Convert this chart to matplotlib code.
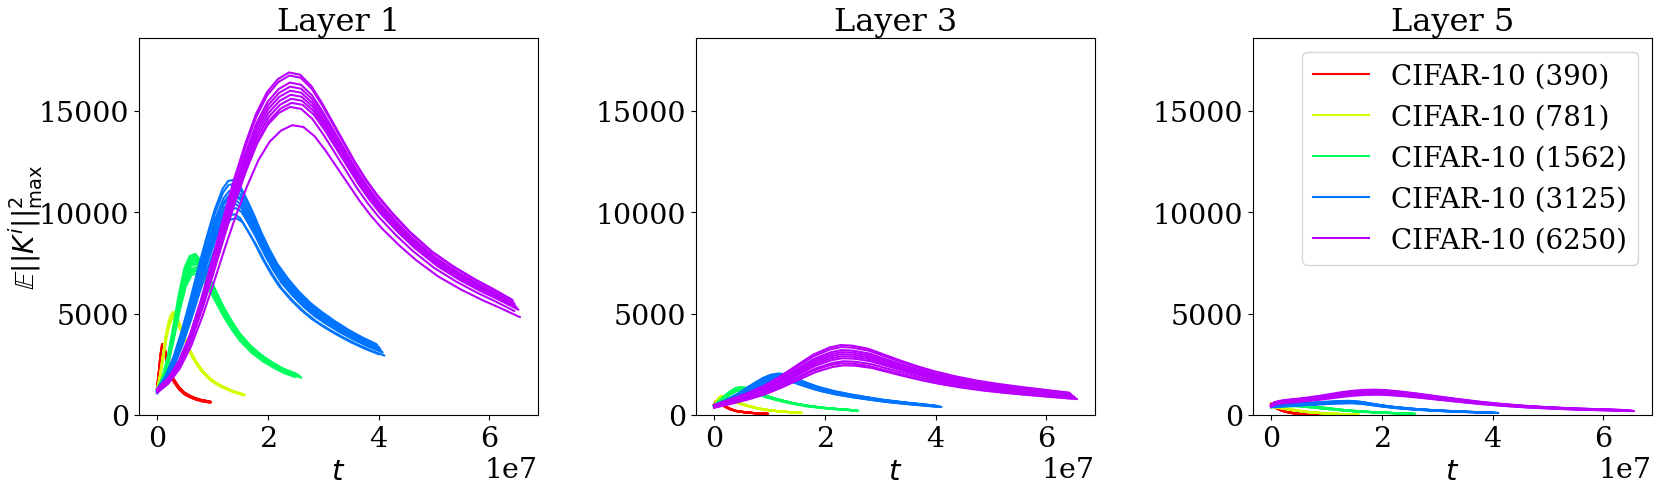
import numpy as np
import matplotlib
matplotlib.use("Agg")
import matplotlib.pyplot as plt

plt.rcParams['font.family'] = 'DejaVu Serif'

layer_names = ["Layer 1", "Layer 3", "Layer 5"]
labels = ["CIFAR-10 (390)", "CIFAR-10 (781)", "CIFAR-10 (1562)",
          "CIFAR-10 (3125)", "CIFAR-10 (6250)"]

# t at which each of the 10 runs stops (units of 1e7), per dataset
run_ends = [
    [0.93, 0.94, 0.95, 0.95, 0.96, 0.96, 0.97, 0.95, 0.94, 0.96],
    [1.52, 1.53, 1.54, 1.55, 1.55, 1.56, 1.57, 1.58, 1.54, 1.56],
    [2.45, 2.48, 2.50, 2.52, 2.53, 2.55, 2.56, 2.58, 2.50, 2.60],
    [3.95, 3.97, 4.00, 4.01, 4.02, 4.03, 4.05, 4.07, 4.00, 4.10],
    [6.40, 6.42, 6.44, 6.45, 6.46, 6.48, 6.50, 6.52, 6.45, 6.55],
]

# Layer 1: a typical run per dataset (t in 1e7) and the peak of every run
l1_t = [
    [0, 0.03, 0.06, 0.09, 0.12, 0.16, 0.2, 0.25, 0.3, 0.4, 0.5, 0.6, 0.7, 0.8, 0.95],
    [0, 0.05, 0.1, 0.15, 0.2, 0.25, 0.3, 0.35, 0.4, 0.5, 0.6, 0.7, 0.8, 0.9, 1.0, 1.15, 1.35, 1.55],
    [0, 0.1, 0.2, 0.3, 0.4, 0.5, 0.6, 0.7, 0.8, 0.9, 1.0, 1.1, 1.2, 1.35, 1.5, 1.7, 1.9, 2.1, 2.3, 2.5],
    [0, 0.15, 0.3, 0.45, 0.6, 0.75, 0.9, 1.05, 1.2, 1.3, 1.4, 1.5, 1.6, 1.75, 1.9, 2.05, 2.2, 2.4,
     2.6, 2.8, 3.0, 3.25, 3.5, 3.75, 4.0],
    [0, 0.2, 0.4, 0.6, 0.8, 1.0, 1.2, 1.4, 1.6, 1.8, 2.0, 2.2, 2.4, 2.6, 2.8, 3.0, 3.2, 3.4, 3.6,
     3.8, 4.0, 4.3, 4.6, 5.0, 5.4, 5.8, 6.1, 6.45],
]
l1_y = [
    [1300, 2000, 2800, 3300, 3300, 2900, 2400, 2000, 1700, 1300, 1050, 900, 790, 710, 640],
    [1250, 1900, 2800, 3700, 4400, 4850, 5000, 4850, 4500, 3800, 3150, 2650, 2250, 1950, 1700,
     1450, 1200, 1020],
    [1200, 1800, 2800, 4200, 5700, 6900, 7500, 7600, 7300, 6800, 6300, 5750, 5200, 4500, 3900,
     3300, 2850, 2500, 2200, 2000],
    [1200, 1800, 2700, 3900, 5300, 6800, 8200, 9500, 10500, 10850, 10900, 10700, 10200, 9400,
     8500, 7700, 7000, 6300, 5700, 5200, 4800, 4350, 3950, 3600, 3300],
    [1200, 1700, 2500, 3700, 5300, 7100, 9000, 10800, 12400, 13800, 14800, 15400, 15700, 15600,
     15100, 14300, 13400, 12500, 11600, 10800, 10100, 9200, 8400, 7500, 6800, 6200, 5800, 5300],
]
l1_peaks = [
    [3500, 3450, 3400, 3380, 3350, 3320, 3300, 3250, 3200, 3150],
    [5100, 5050, 5000, 4980, 4950, 4920, 4900, 4870, 4850, 4800],
    [7950, 7850, 7750, 7650, 7550, 7450, 7300, 7200, 7100, 7000],
    [11600, 11400, 11100, 10900, 10800, 10600, 10400, 10200, 9900, 9700],
    [16900, 16750, 16400, 16200, 16000, 15800, 15600, 15400, 15200, 14300],
]

# Layer 3
l3_t = [
    [0, 0.03, 0.06, 0.1, 0.15, 0.2, 0.3, 0.4, 0.55, 0.7, 0.85, 0.97],
    [0, 0.04, 0.08, 0.13, 0.18, 0.25, 0.35, 0.5, 0.65, 0.8, 1.0, 1.25, 1.55],
    [0, 0.1, 0.2, 0.3, 0.4, 0.5, 0.6, 0.7, 0.85, 1.0, 1.2, 1.45, 1.7, 2.0, 2.3, 2.55],
    [0, 0.15, 0.3, 0.45, 0.6, 0.75, 0.9, 1.05, 1.2, 1.35, 1.5, 1.7, 1.9, 2.2, 2.5, 2.8, 3.1,
     3.5, 4.02],
    [0, 0.3, 0.6, 0.9, 1.2, 1.5, 1.8, 2.1, 2.3, 2.5, 2.8, 3.1, 3.4, 3.7, 4.0, 4.4, 4.8, 5.2,
     5.6, 6.0, 6.45],
]
l3_y = [
    [500, 640, 700, 640, 520, 420, 290, 200, 140, 100, 75, 60],
    [480, 650, 800, 900, 880, 800, 680, 540, 420, 320, 230, 160, 115],
    [450, 680, 900, 1100, 1250, 1300, 1270, 1180, 1020, 880, 730, 570, 450, 350, 280, 230],
    [450, 620, 800, 1000, 1250, 1480, 1700, 1850, 1900, 1830, 1680, 1480, 1300, 1100, 950, 820,
     700, 580, 440],
    [420, 650, 900, 1200, 1600, 2050, 2500, 2800, 2900, 2880, 2750, 2500, 2250, 2020, 1820,
     1600, 1420, 1280, 1160, 1050, 930],
]
l3_peaks = [
    [740, 730, 720, 710, 700, 700, 690, 680, 670, 660],
    [940, 930, 920, 910, 900, 900, 890, 880, 870, 860],
    [1380, 1360, 1340, 1320, 1300, 1290, 1280, 1260, 1240, 1220],
    [2050, 2000, 1970, 1940, 1900, 1880, 1850, 1800, 1760, 1720],
    [3450, 3350, 3200, 3100, 3000, 2900, 2800, 2650, 2550, 2450],
]

# Layer 5
l5_t = [
    [0, 0.05, 0.1, 0.15, 0.2, 0.3, 0.4, 0.55, 0.7, 0.85, 0.95],
    [0, 0.1, 0.2, 0.3, 0.45, 0.6, 0.8, 1.0, 1.2, 1.4, 1.6],
    [0, 0.15, 0.3, 0.45, 0.6, 0.8, 1.0, 1.25, 1.5, 1.8, 2.1, 2.35, 2.58],
    [0, 0.3, 0.6, 0.9, 1.2, 1.45, 1.65, 1.85, 2.05, 2.3, 2.6, 3.0, 3.5, 4.07],
    [0, 0.05, 0.15, 0.3, 0.5, 0.7, 0.9, 1.1, 1.3, 1.5, 1.7, 1.9, 2.1, 2.4, 2.7, 3.0, 3.4, 3.8,
     4.2, 4.6, 5.0, 5.5, 6.0, 6.5],
]
l5_y = [
    [500, 430, 350, 280, 220, 140, 90, 50, 30, 18, 12],
    [420, 390, 340, 290, 230, 170, 115, 80, 55, 40, 30],
    [420, 450, 470, 475, 450, 390, 330, 260, 200, 150, 110, 85, 70],
    [420, 480, 530, 580, 620, 640, 600, 520, 440, 360, 290, 220, 160, 110],
    [450, 560, 630, 680, 730, 790, 860, 940, 1020, 1080, 1120, 1130, 1110, 1040, 950, 850, 720,
     600, 500, 420, 360, 300, 260, 220],
]
l5_peaks = [
    [560, 550, 530, 520, 510, 500, 490, 480, 470, 460],
    [460, 450, 440, 430, 425, 420, 415, 410, 400, 390],
    [520, 510, 500, 490, 480, 470, 460, 450, 440, 430],
    [700, 690, 680, 665, 650, 640, 625, 610, 600, 580],
    [1250, 1220, 1200, 1170, 1150, 1130, 1100, 1070, 1040, 1000],
]

colors = plt.cm.hsv(np.linspace(0, 1, 6))[:5]

fig = plt.figure(figsize=(16.61, 4.89), dpi=100)
lefts = [139 / 1661, 696 / 1661, 1253 / 1661]
bottom, width, height = 73 / 489, 399 / 1661, 377 / 489

all_t = [l1_t, l3_t, l5_t]
all_y = [l1_y, l3_y, l5_y]
all_peaks = [l1_peaks, l3_peaks, l5_peaks]

for i, name in enumerate(layer_names):
    ax = fig.add_axes([lefts[i], bottom, width, height])
    for k in range(5):
        base_t = np.array(all_t[i][k])
        base_y = np.array(all_y[i][k], dtype=float)
        for r in range(10):
            tt = base_t * run_ends[k][r] / base_t[-1] * 1e7
            yy = base_y * all_peaks[i][k][r] / base_y.max()
            ax.plot(tt, yy, color=colors[k], lw=1.5,
                    label=labels[k] if r == 0 else None)
    ax.set_ylim(0, 18600)
    ax.set_yticks([0, 5000, 10000, 15000])
    ax.set_title(name, fontsize=23)
    ax.set_xlabel("$t$", fontsize=21)
    ax.tick_params(labelsize=20.5)
    ax.xaxis.get_offset_text().set_fontsize(20.5)
    if i == 0:
        ax.set_ylabel(r"$\mathbb{E}||K^i||^2_{\max}$", fontsize=20)
        ax.yaxis.set_label_coords(-0.235, 0.5)
    if i == 2:
        ax.legend(loc="upper right", fontsize=20)

plt.savefig("out.png", dpi=100)
